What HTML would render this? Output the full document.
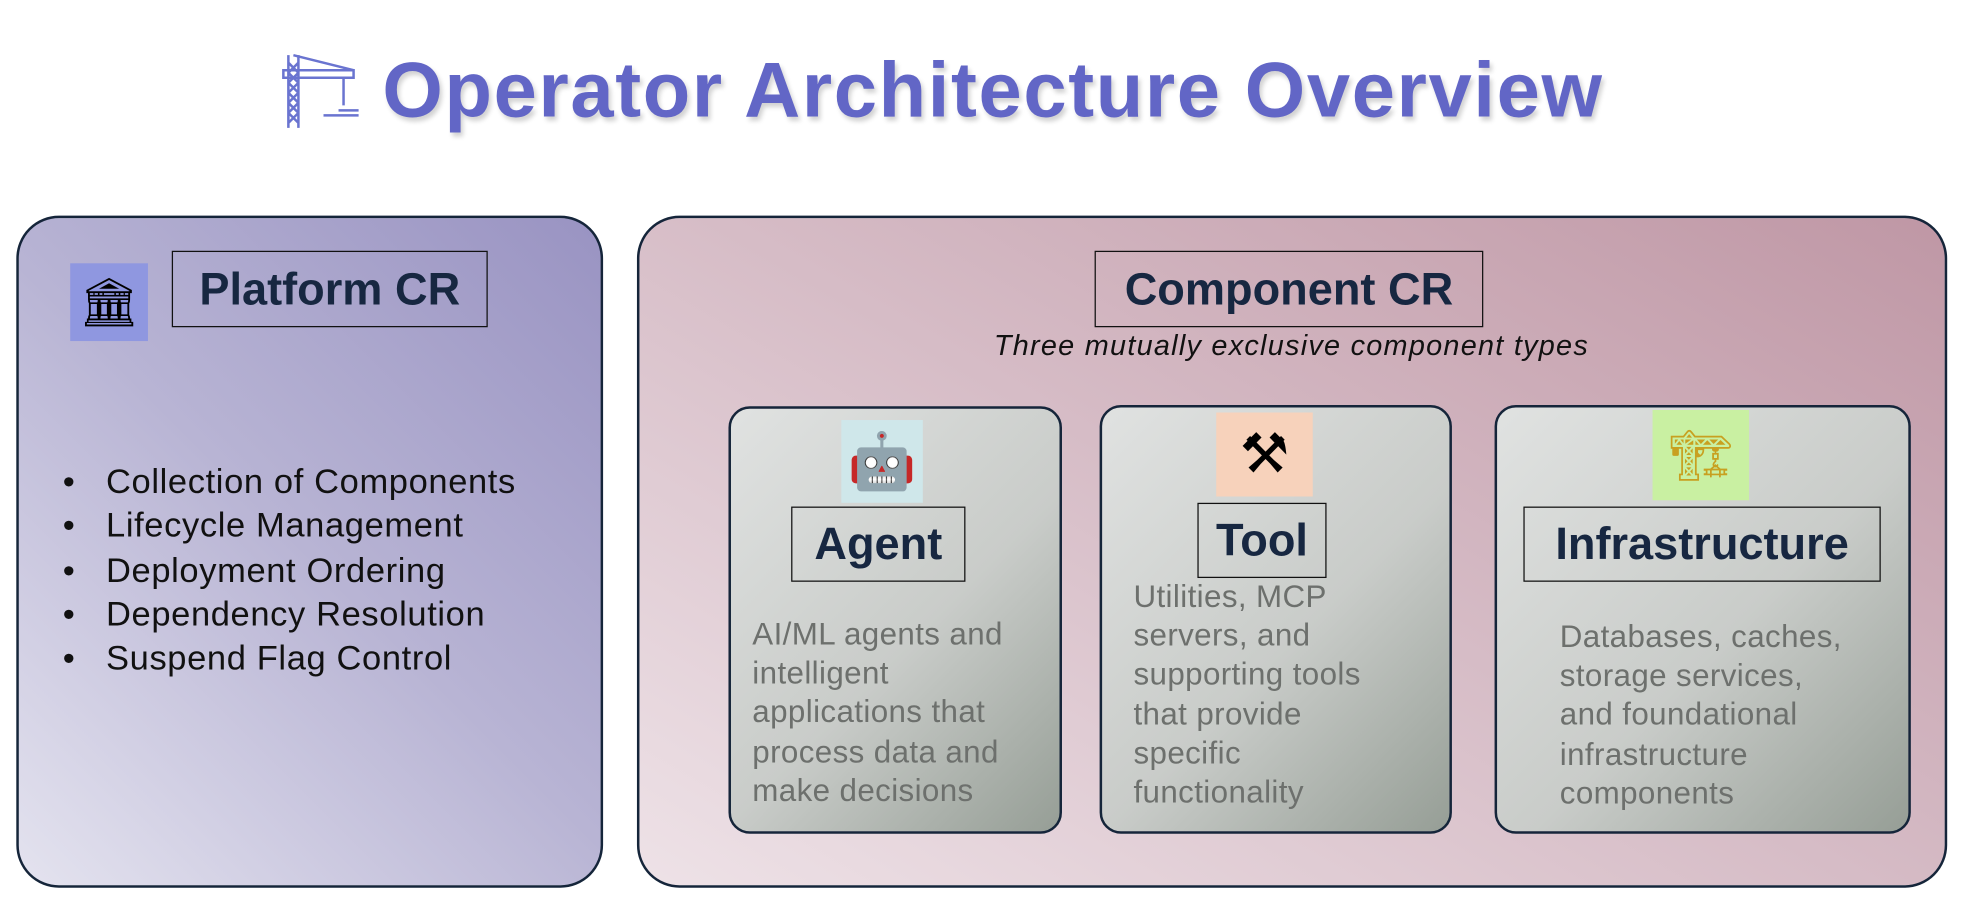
<!DOCTYPE html>
<html><head><meta charset="utf-8"><style>
html,body{margin:0;padding:0;background:#fff;width:1966px;height:924px;overflow:hidden}
#s{position:absolute;left:0;top:0;width:1568px;height:737px;transform:scale(1.25383);transform-origin:0 0;font-family:"Liberation Sans","DejaVu Sans",sans-serif}
.a{position:absolute}
.title{left:305px;top:37px;font-size:62px;font-weight:bold;color:#6266c6;white-space:nowrap;text-shadow:2px 3px 4px rgba(0,0,0,.18);letter-spacing:1.3px}
.big{border-radius:34px;border:2px solid #15253a;box-sizing:border-box}
.lbl{border:1.5px solid #111;box-sizing:border-box;font-weight:bold;color:#172741;text-align:center;font-size:36px;display:flex;align-items:center;justify-content:center}
.card{border:2px solid #15253a;border-radius:17px;box-sizing:border-box;background:linear-gradient(135deg,#e0e2e1 0%,#c9ccc9 55%,#969e96 100%)}
.desc{color:#6d706d;font-size:25px;letter-spacing:0.3px;line-height:31.2px;white-space:nowrap}
.ul{left:50px;top:366px;font-size:27.5px;letter-spacing:0.5px;color:#111;line-height:35.3px;white-space:nowrap}
.ic{display:flex;align-items:center;justify-content:center;font-family:"DejaVu Sans",sans-serif}
</style></head><body><div id="s">
<svg class="a" style="left:224px;top:42px" width="64" height="62" viewBox="0 0 64 62">
<g stroke="#6a74d0" stroke-width="2" fill="none">
<path d="M6 2 L6 60 M14 2 L14 60 M6 8 L14 16 M14 8 L6 16 M6 16 L14 24 M14 16 L6 24 M6 24 L14 32 M14 24 L6 32 M6 32 L14 40 M14 32 L6 40 M6 40 L14 48 M14 40 L6 48 M6 48 L14 56 M14 48 L6 56"/>
<path d="M2 14 L58 14 L58 20 L2 20 Z M10 2 L58 14"/>
<path d="M50 20 L50 42"/>
<path d="M46 46 L62 46 M34 50 L62 50"/>
</g></svg>
<div class="a title">Operator Architecture Overview</div>

<div class="a big" style="left:13px;top:172px;width:468px;height:536px;background:linear-gradient(45deg,#e4e3ef 0%,#b8b4d4 50%,#9993c2 100%)"></div>
<div class="a ic" style="left:56px;top:210px;width:62px;height:62px;background:#8f97e0;font-size:38px">🏛</div>
<div class="a lbl" style="left:137px;top:200px;width:252px;height:61px">Platform CR</div>
<div class="a ul">•&nbsp;&nbsp;&nbsp;Collection of Components<br>•&nbsp;&nbsp;&nbsp;Lifecycle Management<br>•&nbsp;&nbsp;&nbsp;Deployment Ordering<br>•&nbsp;&nbsp;&nbsp;Dependency Resolution<br>•&nbsp;&nbsp;&nbsp;Suspend Flag Control</div>

<div class="a big" style="left:508px;top:172px;width:1045px;height:536px;background:linear-gradient(30deg,#eee2e7 0%,#d6bcc6 50%,#bf97a5 100%)"></div>
<div class="a lbl" style="left:873px;top:200px;width:310px;height:61px">Component CR</div>
<div class="a" style="left:700px;top:262px;width:660px;text-align:center;font-style:italic;font-size:23px;letter-spacing:1px;color:#111">Three mutually exclusive component types</div>

<div class="a card" style="left:581px;top:324px;width:266px;height:341px"></div>
<div class="a ic" style="left:671px;top:335px;width:65px;height:66px;background:#cfe7ea;font-size:44px">🤖</div>
<div class="a lbl" style="left:631px;top:404px;width:139px;height:60px">Agent</div>
<div class="a desc" style="left:600px;top:491px">AI/ML agents and<br>intelligent<br>applications that<br>process data and<br>make decisions</div>

<div class="a card" style="left:877px;top:323px;width:281px;height:342px"></div>
<div class="a ic" style="left:970px;top:329px;width:77px;height:67px;background:#f7d2bb;font-size:44px">⚒</div>
<div class="a lbl" style="left:955px;top:401px;width:103px;height:60px">Tool</div>
<div class="a desc" style="left:904px;top:461px">Utilities, MCP<br>servers, and<br>supporting tools<br>that provide<br>specific<br>functionality</div>

<div class="a card" style="left:1192px;top:323px;width:332px;height:342px"></div>
<div class="a ic" style="left:1318px;top:327px;width:77px;height:72px;background:#c9f0a2;font-size:40px;color:#c8a020">🏗</div>
<div class="a lbl" style="left:1215px;top:404px;width:285px;height:60px">Infrastructure</div>
<div class="a desc" style="left:1244px;top:493px">Databases, caches,<br>storage services,<br>and foundational<br>infrastructure<br>components</div>
</div></body></html>
